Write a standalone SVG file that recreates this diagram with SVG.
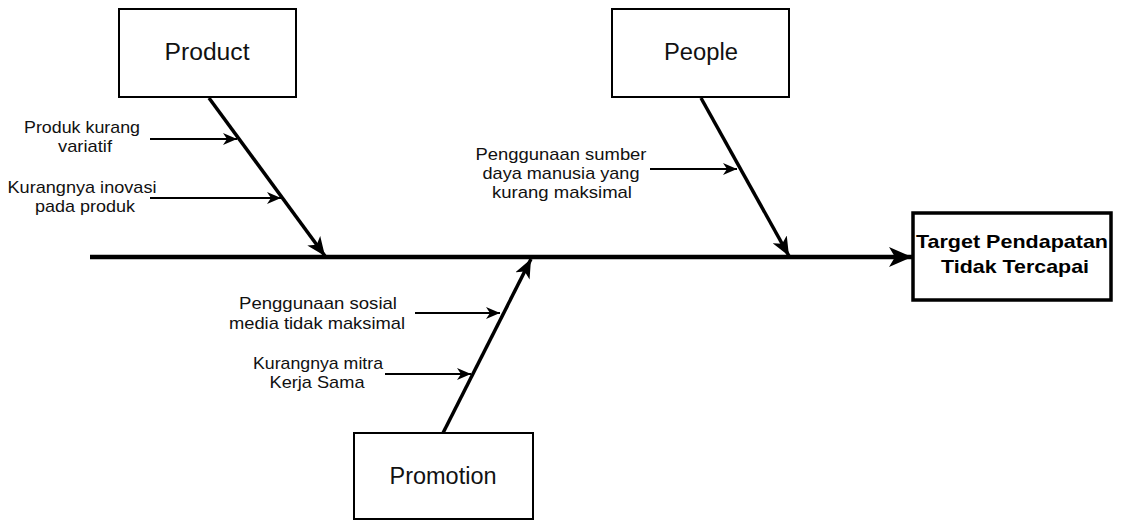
<svg xmlns="http://www.w3.org/2000/svg" width="1123" height="520" viewBox="0 0 1123 520">
<style>
.box{fill:#fff;stroke:#000;stroke-width:2}
.lbl{font-family:"Liberation Sans",Arial,sans-serif;font-size:23px;fill:#111;text-anchor:middle}
.txt{font-family:"Liberation Sans",Arial,sans-serif;font-size:17px;fill:#111;text-anchor:middle}
.bold{font-family:"Liberation Sans",Arial,sans-serif;font-size:19px;font-weight:bold;fill:#000;text-anchor:middle}
.sub{stroke:#000;stroke-width:2;fill:none;marker-end:url(#aS)}
.bone{stroke:#000;stroke-width:3.5;fill:none;marker-end:url(#aM)}
.spine{stroke:#000;stroke-width:4.5;fill:none;marker-end:url(#aL)}
</style>
<defs>
<marker id="aS" markerUnits="userSpaceOnUse" markerWidth="16" markerHeight="12" refX="14" refY="6" orient="auto"><path d="M0,0 L14,6 L0,12 L4,6 z" fill="#000"/></marker>
<marker id="aM" markerUnits="userSpaceOnUse" markerWidth="20" markerHeight="16" refX="19" refY="8" orient="auto"><path d="M0,0 L19,8 L0,16 L5,8 z" fill="#000"/></marker>
<marker id="aL" markerUnits="userSpaceOnUse" markerWidth="24" markerHeight="20" refX="23" refY="10" orient="auto"><path d="M0,0 L23,10 L0,20 L6,10 z" fill="#000"/></marker>
</defs>
<rect width="1123" height="520" fill="#fff"/>
<g id="connectors">
<line class="spine" x1="90" y1="257" x2="912" y2="257"/>
<line class="bone" x1="209" y1="98" x2="325" y2="256"/>
<line class="bone" x1="701" y1="98" x2="789" y2="256"/>
<line class="bone" x1="443" y1="433" x2="531" y2="259"/>
<line class="sub" x1="150" y1="139" x2="237" y2="139"/>
<line class="sub" x1="150" y1="198" x2="281" y2="198"/>
<line class="sub" x1="650" y1="169" x2="737" y2="169"/>
<line class="sub" x1="415" y1="313" x2="500" y2="313"/>
<line class="sub" x1="385" y1="374" x2="471" y2="374"/>
</g>
<g id="product"><rect class="box" x="119" y="9" width="177" height="88"/><text class="lbl" x="207" y="60" textLength="85" lengthAdjust="spacingAndGlyphs">Product</text></g>
<g id="people"><rect class="box" x="612" y="9" width="177" height="88"/><text class="lbl" x="701" y="60" textLength="74" lengthAdjust="spacingAndGlyphs">People</text></g>
<g id="promotion"><rect class="box" x="354" y="433" width="179" height="86"/><text class="lbl" x="443" y="484" textLength="107" lengthAdjust="spacingAndGlyphs">Promotion</text></g>
<g id="target"><rect x="913" y="213" width="198" height="87" fill="#fff" stroke="#000" stroke-width="3.5"/><text class="bold" x="1012" y="248" textLength="192" lengthAdjust="spacingAndGlyphs">Target Pendapatan</text><text class="bold" x="1015" y="273" textLength="148" lengthAdjust="spacingAndGlyphs">Tidak Tercapai</text></g>
<g id="c1"><text class="txt" x="82" y="133" textLength="116" lengthAdjust="spacingAndGlyphs">Produk kurang</text><text class="txt" x="85" y="152" textLength="54" lengthAdjust="spacingAndGlyphs">variatif</text></g>
<g id="c2"><text class="txt" x="82" y="193" textLength="149" lengthAdjust="spacingAndGlyphs">Kurangnya inovasi</text><text class="txt" x="85" y="212" textLength="100" lengthAdjust="spacingAndGlyphs">pada produk</text></g>
<g id="c3"><text class="txt" x="561" y="160" textLength="171" lengthAdjust="spacingAndGlyphs">Penggunaan sumber</text><text class="txt" x="561" y="179" textLength="157" lengthAdjust="spacingAndGlyphs">daya manusia yang</text><text class="txt" x="562" y="198" textLength="140" lengthAdjust="spacingAndGlyphs">kurang maksimal</text></g>
<g id="c4"><text class="txt" x="318" y="309" textLength="158" lengthAdjust="spacingAndGlyphs">Penggunaan sosial</text><text class="txt" x="317" y="329" textLength="176" lengthAdjust="spacingAndGlyphs">media tidak maksimal</text></g>
<g id="c5"><text class="txt" x="318" y="369" textLength="130" lengthAdjust="spacingAndGlyphs">Kurangnya mitra</text><text class="txt" x="317" y="388" textLength="95" lengthAdjust="spacingAndGlyphs">Kerja Sama</text></g>
</svg>
